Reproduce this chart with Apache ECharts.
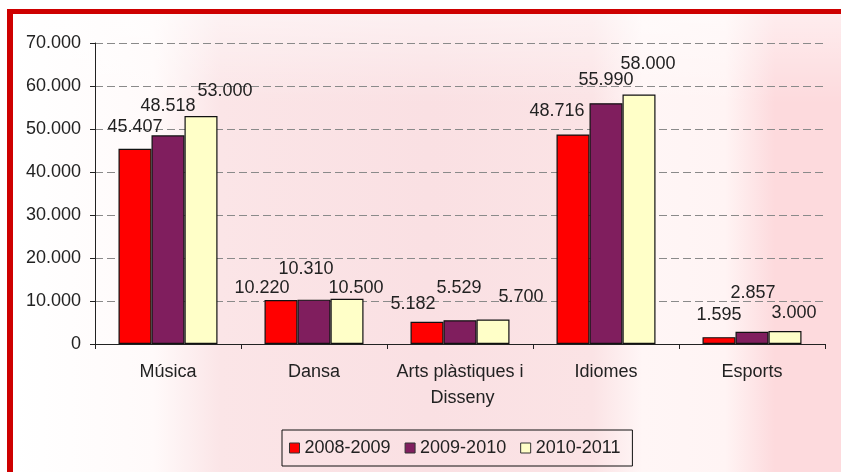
<!DOCTYPE html>
<html>
<head>
<meta charset="utf-8">
<script src="https://cdn.jsdelivr.net/npm/echarts@6/dist/echarts.min.js"></script>
<style>
html,body{margin:0;padding:0;background:#fff;}
#chart{width:841px;height:472px;}
</style>
</head>
<body>
<div id="chart"></div>
<script>
const categories = ['Música', 'Dansa', 'Arts plàstiques i Disseny', 'Idiomes', 'Esports'];
const seriesNames = ['2008-2009', '2009-2010', '2010-2011'];
const values2008 = [45407, 10220, 5182, 48716, 1595];
const values2009 = [48518, 10310, 5529, 55990, 2857];
const values2010 = [53000, 10500, 5700, 58000, 3000];
const yTicks = [0, 10000, 20000, 30000, 40000, 50000, 60000, 70000];

const colors = ['#FF0000', '#801E5E', '#FFFFC8'];
// label nudges (style only), per series per category: [dx, dy]
const labelNudge = [
  [[0,-13],[-19,-3],[-14,-9],[-16,-14],[0,-13]],
  [[0,-20],[-8,-22],[-1,-23],[0,-14],[1,-30]],
  [[24,-16],[9,-2],[28,-13],[9,-22],[9,-9]]
];
const FONT = "'Liberation Sans', Arial, sans-serif";
function fmt(v){ return String(v).replace(/\B(?=(\d{3})+(?!\d))/g, '.'); }

const allValues = [values2008, values2009, values2010];
const series = allValues.map((vals, si) => ({
  name: seriesNames[si],
  type: 'bar',
  barWidth: 33,
  barGap: '0%',
  itemStyle: { color: colors[si], borderColor: '#111', borderWidth: 1.2 },
  label: { show: true, position: 'top', distance: 0, color: '#222', fontSize: 18, fontFamily: FONT,
           formatter: p => fmt(p.value) },
  data: vals.map((v, ci) => ({ value: v, label: { offset: labelNudge[si][ci] } }))
}));

const chart = echarts.init(document.getElementById('chart'), null, {renderer: 'canvas'});
chart.setOption({
  backgroundColor: '#fff',
  animation: false,
  textStyle: { fontFamily: FONT },
  graphic: [
    { type: 'rect', z: -100, silent: true, shape: { x: 13, y: 14, width: 828, height: 458 },
      style: { fill: new echarts.graphic.LinearGradient(0, 0, 1, 0, [
        {offset: 0, color: '#ffffff'}, {offset: 0.17, color: '#fffafa'},
        {offset: 0.25, color: '#fbe5e7'}, {offset: 0.5, color: '#fae0e3'},
        {offset: 0.70, color: '#fbe3e5'}, {offset: 0.76, color: '#fff6f6'},
        {offset: 0.86, color: '#fff4f4'}, {offset: 0.92, color: '#fddadd'},
        {offset: 1, color: '#fddadd'}]) } },
    { type: 'rect', z: -99, silent: true, shape: { x: 13, y: 14, width: 828, height: 90 },
      style: { fill: new echarts.graphic.LinearGradient(0, 0, 0, 1, [
        {offset: 0, color: 'rgba(255,255,255,0.5)'}, {offset: 1, color: 'rgba(255,255,255,0)'}]) } },
    { type: 'rect', z: 100, silent: true, shape: { x: 7, y: 9, width: 834, height: 5 }, style: { fill: '#CE0000' } },
    { type: 'rect', z: 100, silent: true, shape: { x: 7, y: 9, width: 6, height: 463 }, style: { fill: '#CE0000' } }
  ],
  grid: { left: 95, right: 16, top: 43, bottom: 128, containLabel: false },
  legend: {
    data: seriesNames,
    left: 282, top: 430,
    orient: 'horizontal',
    itemWidth: 10, itemHeight: 10, itemGap: 14,
    padding: [9, 12, 9, 7],
    borderColor: '#111', borderWidth: 1,
    icon: 'rect',
    itemStyle: { borderColor: '#333', borderWidth: 1 },
    textStyle: { fontSize: 18, color: '#222', fontFamily: FONT }
  },
  xAxis: {
    type: 'category',
    data: categories,
    axisLine: { lineStyle: { color: '#222', width: 1 } },
    axisTick: { show: true, length: 5, lineStyle: { color: '#222' } },
    axisLabel: { color: '#222', fontSize: 18, fontFamily: FONT, margin: 15, interval: 0,
                 width: 140, overflow: 'break', lineHeight: 26 }
  },
  yAxis: {
    type: 'value',
    min: 0, max: 70000, interval: 10000,
    axisLine: { show: true, lineStyle: { color: '#222', width: 1 } },
    axisTick: { show: true, length: 5, lineStyle: { color: '#222' } },
    axisLabel: { color: '#222', fontSize: 18, fontFamily: FONT, margin: 14,
                 formatter: v => yTicks.includes(v) ? fmt(v) : '' },
    splitLine: { show: true, lineStyle: { color: '#8a8a8a', type: [8, 4], width: 1 } }
  },
  series: series
});
</script>
</body>
</html>
